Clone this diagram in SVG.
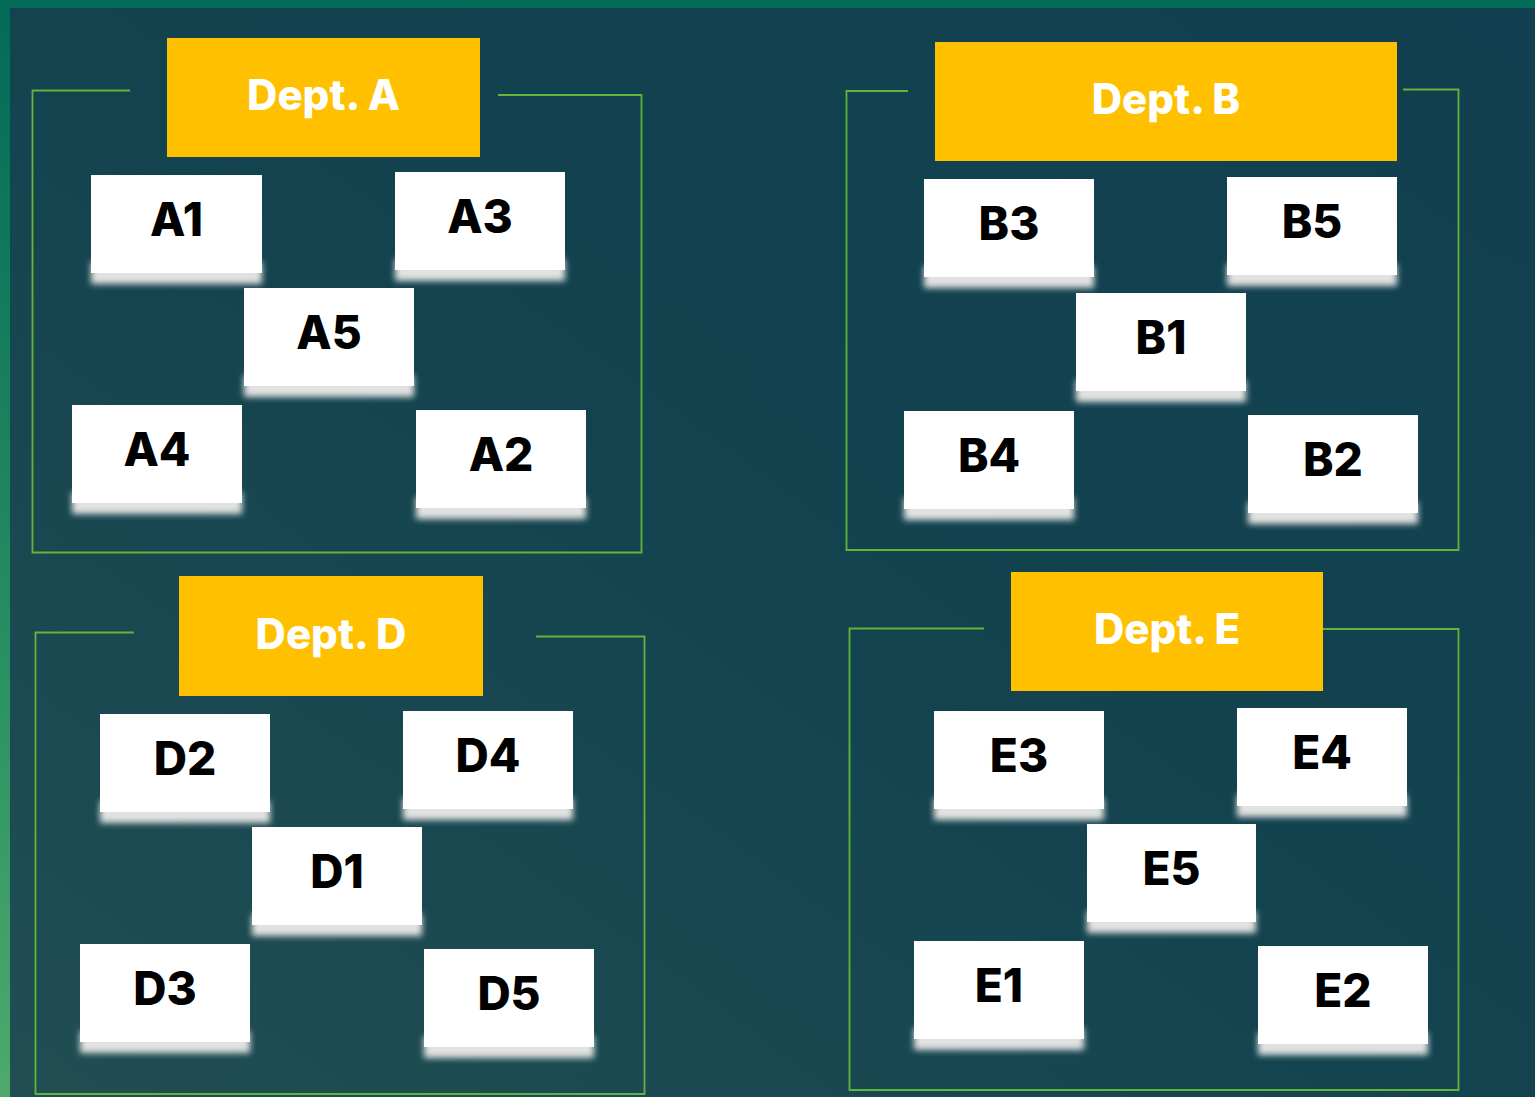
<svg xmlns="http://www.w3.org/2000/svg" width="1535" height="1097" viewBox="0 0 1535 1097">
  <defs>
    <linearGradient id="frameGrad" x1="0" y1="0" x2="0" y2="1">
      <stop offset="0" stop-color="#036a58"/>
      <stop offset="0.5" stop-color="#1f8a60"/>
      <stop offset="1" stop-color="#4eaa6c"/>
    </linearGradient>
    <linearGradient id="panelGrad" x1="1" y1="0" x2="0" y2="1">
      <stop offset="0" stop-color="#113f4f"/>
      <stop offset="0.5" stop-color="#13434f"/>
      <stop offset="1" stop-color="#204e53"/>
    </linearGradient>
    <filter id="soft" x="-10%" y="-30%" width="120%" height="160%">
      <feGaussianBlur stdDeviation="3.2"/>
    </filter>
    <filter id="edge" x="-5%" y="-5%" width="110%" height="110%">
      <feGaussianBlur stdDeviation="0.7"/>
    </filter>
  </defs>
  <style>
    .dept { fill: #ffc000; }
    .dept-label { font-family: Inter, "Liberation Sans", sans-serif; font-weight: 800; font-size: 42px; fill: #ffffff; text-anchor: middle; }
    .card { fill: #ffffff; filter: url(#edge); }
    .card-shadow { fill: #e2e2e2; filter: url(#soft); }
    .card-label { font-family: Inter, "Liberation Sans", sans-serif; font-weight: 800; font-size: 46px; fill: #000000; text-anchor: middle; }
    .bracket { fill: none; stroke: #62b43a; stroke-width: 1.8; }
  </style>

  <!-- backdrop -->
  <rect x="0" y="0" width="1535" height="1097" fill="url(#frameGrad)"/>
  <rect x="10" y="8" width="1525" height="1089" fill="url(#panelGrad)"/>

  <!-- department frames -->
  <g id="connectors">
    <path class="bracket" d="M130,90.5 H32.5 V552.5 H641.5 V95 H498"/>
    <path class="bracket" d="M908,91 H846.5 V550 H1458.5 V89.5 H1403"/>
    <path class="bracket" d="M134,632.5 H35.5 V1094 H644.5 V636.5 H536"/>
    <path class="bracket" d="M984,628.5 H849.5 V1090 H1458.5 V629 H1314"/>
  </g>

  <!-- Dept. A -->
  <g id="dept-a">
    <rect class="dept" x="167" y="38" width="313" height="119"/>
    <text class="dept-label" x="323.5" y="110">Dept. A</text>
  </g>
  <g id="a1"><rect class="card-shadow" x="91" y="262" width="171" height="22"/><rect class="card" x="91" y="175" width="171" height="98"/><text class="card-label" x="176.5" y="236">A1</text></g>
  <g id="a3"><rect class="card-shadow" x="395" y="259" width="170" height="22"/><rect class="card" x="395" y="172" width="170" height="98"/><text class="card-label" x="480" y="233">A3</text></g>
  <g id="a5"><rect class="card-shadow" x="244" y="375" width="170" height="22"/><rect class="card" x="244" y="288" width="170" height="98"/><text class="card-label" x="329" y="349">A5</text></g>
  <g id="a4"><rect class="card-shadow" x="72" y="492" width="170" height="22"/><rect class="card" x="72" y="405" width="170" height="98"/><text class="card-label" x="157" y="466">A4</text></g>
  <g id="a2"><rect class="card-shadow" x="416" y="497" width="170" height="22"/><rect class="card" x="416" y="410" width="170" height="98"/><text class="card-label" x="501" y="471">A2</text></g>

  <!-- Dept. B -->
  <g id="dept-b">
    <rect class="dept" x="935" y="42" width="462" height="119"/>
    <text class="dept-label" x="1166" y="114">Dept. B</text>
  </g>
  <g id="b3"><rect class="card-shadow" x="924" y="266" width="170" height="22"/><rect class="card" x="924" y="179" width="170" height="98"/><text class="card-label" x="1009" y="240">B3</text></g>
  <g id="b5"><rect class="card-shadow" x="1227" y="264" width="170" height="22"/><rect class="card" x="1227" y="177" width="170" height="98"/><text class="card-label" x="1312" y="238">B5</text></g>
  <g id="b1"><rect class="card-shadow" x="1076" y="380" width="170" height="22"/><rect class="card" x="1076" y="293" width="170" height="98"/><text class="card-label" x="1161" y="354">B1</text></g>
  <g id="b4"><rect class="card-shadow" x="904" y="498" width="170" height="22"/><rect class="card" x="904" y="411" width="170" height="98"/><text class="card-label" x="989" y="472">B4</text></g>
  <g id="b2"><rect class="card-shadow" x="1248" y="502" width="170" height="22"/><rect class="card" x="1248" y="415" width="170" height="98"/><text class="card-label" x="1333" y="476">B2</text></g>

  <!-- Dept. D -->
  <g id="dept-d">
    <rect class="dept" x="179" y="576" width="304" height="120"/>
    <text class="dept-label" x="331" y="649">Dept. D</text>
  </g>
  <g id="d2"><rect class="card-shadow" x="100" y="801" width="170" height="22"/><rect class="card" x="100" y="714" width="170" height="98"/><text class="card-label" x="185" y="775">D2</text></g>
  <g id="d4"><rect class="card-shadow" x="403" y="798" width="170" height="22"/><rect class="card" x="403" y="711" width="170" height="98"/><text class="card-label" x="488" y="772">D4</text></g>
  <g id="d1"><rect class="card-shadow" x="252" y="914" width="170" height="22"/><rect class="card" x="252" y="827" width="170" height="98"/><text class="card-label" x="337" y="888">D1</text></g>
  <g id="d3"><rect class="card-shadow" x="80" y="1031" width="170" height="22"/><rect class="card" x="80" y="944" width="170" height="98"/><text class="card-label" x="165" y="1005">D3</text></g>
  <g id="d5"><rect class="card-shadow" x="424" y="1036" width="170" height="22"/><rect class="card" x="424" y="949" width="170" height="98"/><text class="card-label" x="509" y="1010">D5</text></g>

  <!-- Dept. E -->
  <g id="dept-e">
    <rect class="dept" x="1011" y="572" width="312" height="119"/>
    <text class="dept-label" x="1167" y="644">Dept. E</text>
  </g>
  <g id="e3"><rect class="card-shadow" x="934" y="798" width="170" height="22"/><rect class="card" x="934" y="711" width="170" height="98"/><text class="card-label" x="1019" y="772">E3</text></g>
  <g id="e4"><rect class="card-shadow" x="1237" y="795" width="170" height="22"/><rect class="card" x="1237" y="708" width="170" height="98"/><text class="card-label" x="1322" y="769">E4</text></g>
  <g id="e5"><rect class="card-shadow" x="1087" y="911" width="169" height="22"/><rect class="card" x="1087" y="824" width="169" height="98"/><text class="card-label" x="1171.5" y="885">E5</text></g>
  <g id="e1"><rect class="card-shadow" x="914" y="1028" width="170" height="22"/><rect class="card" x="914" y="941" width="170" height="98"/><text class="card-label" x="999" y="1002">E1</text></g>
  <g id="e2"><rect class="card-shadow" x="1258" y="1033" width="170" height="22"/><rect class="card" x="1258" y="946" width="170" height="98"/><text class="card-label" x="1343" y="1007">E2</text></g>
</svg>
